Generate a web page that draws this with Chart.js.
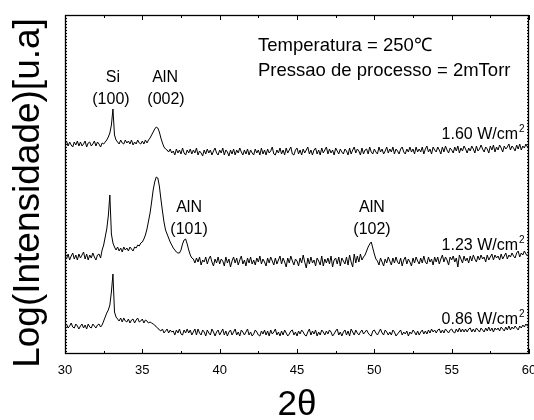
<!DOCTYPE html>
<html>
<head>
<meta charset="utf-8">
<script src="https://cdn.jsdelivr.net/npm/chart.js@4.4.1/dist/chart.umd.min.js"></script>
<style>
  html, body { margin: 0; padding: 0; background: #fff; }
</style>
</head>
<body>
<canvas id="xrd" width="534" height="420"></canvas>
<script>
/* 2theta grid, 30 -> 60 deg, 0.1 deg step */
const twoTheta = [];
for (let i = 300; i <= 600; i++) twoTheta.push(i / 10);

const xTicks = [30, 35, 40, 45, 50, 55, 60];

/* log intensity (arbitrary units, curves offset) */
const v160 = [
  210, 213, 208, 212, 209, 207, 212, 209, 213, 208,
  212, 208, 210, 213, 207, 211, 212, 208, 210, 213,
  208, 212, 210, 207, 211, 210, 212, 214, 217, 221,
  229, 245, 219, 214, 212, 210, 214, 211, 210, 214,
  211, 213, 210, 214, 209, 212, 210, 214, 211, 210,
  213, 210, 214, 211, 214, 216, 219, 222, 225, 227,
  226, 222, 216, 211, 207, 205, 204, 202, 205, 201,
  203, 199, 205, 201, 204, 200, 206, 201, 199, 204,
  201, 205, 200, 204, 201, 206, 199, 203, 201, 198,
  204, 200, 205, 201, 204, 199, 203, 206, 201, 199,
  204, 201, 206, 199, 204, 202, 198, 204, 200, 205,
  199, 204, 201, 206, 202, 199, 204, 200, 205, 199,
  204, 201, 199, 205, 201, 204, 199, 206, 200, 204,
  199, 205, 201, 203, 207, 200, 199, 204, 201, 206,
  200, 204, 199, 206, 201, 204, 207, 200, 199, 204,
  206, 200, 204, 199, 205, 201, 204, 207, 200, 204,
  199, 204, 206, 200, 204, 199, 206, 201, 204, 207,
  200, 205, 201, 204, 199, 206, 203, 200, 205, 202,
  200, 205, 203, 199, 206, 200, 204, 207, 201, 205,
  203, 199, 206, 200, 204, 205, 200, 207, 202, 200,
  205, 202, 200, 207, 202, 205, 200, 203, 207, 201,
  205, 202, 207, 200, 205, 203, 200, 205, 207, 202,
  200, 205, 202, 207, 202, 205, 200, 207, 202, 205,
  202, 207, 200, 205, 208, 202, 205, 200, 207, 204,
  202, 207, 204, 200, 207, 202, 208, 204, 201, 206,
  204, 201, 207, 203, 208, 201, 206, 203, 208, 205,
  201, 206, 203, 208, 205, 201, 208, 203, 205, 209,
  205, 202, 207, 205, 201, 208, 204, 209, 202, 207,
  204, 209, 206, 202, 208, 205, 207, 210, 204, 208,
  206, 203, 209, 205, 210, 204, 208, 206, 210, 207,
  208,
];

const v123 = [
  98, 95, 100, 94, 98, 101, 95, 99, 94, 100,
  96, 99, 102, 95, 100, 94, 99, 96, 101, 97,
  94, 99, 100, 96, 104, 109, 117, 125, 138, 159,
  120, 111, 107, 104, 107, 103, 106, 102, 107, 104,
  106, 103, 107, 105, 103, 107, 106, 109, 108, 111,
  112, 115, 119, 125, 133, 141, 152, 164, 172, 177,
  176, 168, 155, 143, 132, 124, 120, 116, 112, 109,
  106, 104, 102, 101, 101, 104, 110, 114, 115, 110,
  104, 99, 96, 95, 91, 96, 92, 97, 89, 94,
  92, 97, 90, 95, 98, 92, 88, 95, 91, 97,
  90, 95, 93, 88, 97, 91, 95, 87, 93, 97,
  91, 96, 89, 94, 98, 90, 94, 88, 96, 91,
  97, 90, 94, 89, 96, 92, 98, 90, 95, 92,
  88, 96, 91, 97, 93, 89, 96, 90, 94, 98,
  90, 96, 92, 87, 96, 91, 98, 93, 89, 95,
  93, 88, 96, 91, 99, 92, 86, 96, 90, 97,
  91, 94, 88, 96, 93, 89, 98, 88, 95, 91,
  96, 90, 98, 87, 94, 96, 90, 97, 88, 96,
  93, 90, 97, 89, 99, 92, 87, 100, 91, 98,
  92, 100, 94, 97, 99, 103, 107, 110, 112, 106,
  100, 95, 93, 89, 96, 92, 88, 95, 91, 97,
  93, 89, 96, 91, 97, 92, 90, 96, 88, 94,
  97, 90, 95, 92, 88, 96, 91, 97, 93, 90,
  96, 91, 98, 92, 90, 97, 92, 95, 89, 97,
  92, 97, 90, 95, 99, 92, 97, 94, 89, 97,
  94, 98, 92, 96, 87, 99, 95, 91, 98, 93,
  96, 91, 98, 93, 99, 95, 92, 98, 94, 99,
  95, 97, 92, 99, 94, 97, 100, 94, 99, 96,
  98, 94, 100, 95, 98, 101, 95, 99, 97, 101,
  98, 96, 101, 103, 97, 101, 99, 103, 100, 98,
  101,
];

const v086 = [
  28, 30, 26, 28, 31, 27, 26, 30, 28, 25,
  28, 30, 26, 29, 25, 30, 27, 26, 30, 28,
  26, 29, 30, 27, 29, 33, 37, 41, 44, 49,
  62, 80, 42, 37, 35, 33, 36, 32, 36, 33,
  32, 35, 31, 34, 35, 31, 34, 36, 32, 33,
  35, 31, 34, 33, 31, 32, 31, 30, 29, 27,
  26, 24, 23, 25, 21, 23, 25, 21, 24, 22,
  23, 19, 24, 21, 25, 20, 19, 24, 21, 25,
  21, 24, 19, 22, 25, 19, 25, 21, 19, 24,
  22, 18, 24, 21, 19, 25, 22, 18, 22, 24,
  19, 22, 25, 19, 23, 18, 22, 24, 19, 22,
  25, 19, 22, 18, 24, 22, 19, 22, 25, 19,
  22, 18, 20, 24, 22, 19, 18, 23, 20, 24,
  19, 23, 18, 24, 20, 22, 25, 19, 22, 18,
  23, 19, 24, 21, 18, 20, 23, 24, 19, 22,
  18, 23, 20, 24, 22, 19, 18, 22, 25, 19,
  23, 20, 24, 18, 22, 19, 24, 22, 19, 23,
  20, 24, 22, 18, 20, 23, 25, 19, 22, 18,
  22, 24, 19, 23, 18, 25, 22, 19, 24, 21,
  19, 22, 24, 20, 22, 24, 21, 19, 18, 23,
  24, 21, 19, 22, 25, 21, 19, 24, 22, 19,
  22, 19, 24, 22, 18, 20, 22, 24, 19, 22,
  20, 23, 18, 22, 20, 24, 22, 19, 23, 19,
  22, 24, 20, 23, 20, 24, 21, 25, 22, 24,
  21, 24, 25, 21, 24, 21, 25, 23, 21, 24,
  25, 22, 21, 25, 22, 26, 22, 25, 22, 25,
  22, 25, 26, 22, 25, 22, 26, 24, 22, 26,
  24, 22, 26, 23, 27, 23, 26, 22, 26, 24,
  26, 23, 27, 25, 23, 27, 24, 28, 24, 27,
  25, 28, 26, 24, 28, 26, 29, 27, 30, 28,
  29,
];

/* texts placed in data coordinates */
const peakLabels = [
  { text: "Si", x: 33.1, y: 276 },
  { text: "(100)", x: 32.97, y: 254 },
  { text: "AlN", x: 36.47, y: 276 },
  { text: "(002)", x: 36.53, y: 254 },
  { text: "AlN", x: 38.02, y: 146 },
  { text: "(101)", x: 38.02, y: 124 },
  { text: "AlN", x: 49.85, y: 146 },
  { text: "(102)", x: 49.85, y: 124 },
];
const conditions = ["Temperatura = 250℃", "Pressao de processo = 2mTorr"];
const powers = ["1.60", "1.23", "0.86"];
const powerLabelY = [219, 108, 34];

const FONT = "'Liberation Sans', Arial, sans-serif";

function series(vals) {
  return {
    data: twoTheta.map((x, i) => ({ x: x, y: vals[i] })),
    borderColor: "#000",
    borderWidth: 1,
    pointRadius: 0,
    tension: 0,
    fill: false,
  };
}

/* frame, inner ticks, annotations and axis titles */
const decor = {
  id: "decor",
  afterDraw(chart) {
    const { ctx, chartArea: a, scales } = chart;
    const x = scales.x;
    const y = scales.y;
    ctx.save();
    ctx.strokeStyle = "#000";
    ctx.lineWidth = 1;
    ctx.beginPath();
    for (let v = 30; v <= 60; v += 2.5) {
      const px = Math.round(x.getPixelForValue(v)) + 0.5;
      const len = v % 5 === 0 ? 5 : 3;
      ctx.moveTo(px, a.bottom);
      ctx.lineTo(px, a.bottom - len);
      ctx.moveTo(px, a.top);
      ctx.lineTo(px, a.top + len);
    }
    for (let v = 3; v < 339; v += 3) {
      const py = Math.round(y.getPixelForValue(v)) + 0.5;
      ctx.moveTo(a.left, py);
      ctx.lineTo(a.left + 2, py);
      ctx.moveTo(a.right, py);
      ctx.lineTo(a.right - 2, py);
    }
    ctx.stroke();
    ctx.lineWidth = 1.3;
    ctx.strokeRect(a.left + 0.5, a.top + 0.5, a.right - a.left - 1, a.bottom - a.top - 1);

    ctx.fillStyle = "#000";
    ctx.textBaseline = "middle";

    ctx.font = "16px " + FONT;
    ctx.textAlign = "center";
    peakLabels.forEach((l) => {
      ctx.fillText(l.text, x.getPixelForValue(l.x), y.getPixelForValue(l.y));
    });

    ctx.font = "18.5px " + FONT;
    ctx.textAlign = "left";
    ctx.fillText(conditions[0], x.getPixelForValue(42.48), y.getPixelForValue(308));
    ctx.fillText(conditions[1], x.getPixelForValue(42.48), y.getPixelForValue(283));

    const right = x.getPixelForValue(59.29);
    powers.forEach((p, i) => {
      const py = y.getPixelForValue(powerLabelY[i]);
      ctx.font = "16px " + FONT;
      ctx.textAlign = "right";
      ctx.fillText(p + " W/cm", right, py);
      ctx.font = "10px " + FONT;
      ctx.textAlign = "left";
      ctx.fillText("2", right + 1, py - 6);
    });

    ctx.font = "35px " + FONT;
    ctx.textAlign = "center";
    ctx.fillText("2θ", (a.left + a.right) / 2, 405);

    ctx.translate(29, 193);
    ctx.rotate(-Math.PI / 2);
    ctx.font = "37px " + FONT;
    ctx.fillText("Log(Intensidade)[u.a]", 0, 0);
    ctx.restore();
  },
};

new Chart(document.getElementById("xrd"), {
  type: "line",
  data: { datasets: [series(v160), series(v123), series(v086)] },
  options: {
    responsive: false,
    animation: false,
    layout: { padding: { top: 15, right: 5, left: 0, bottom: 0 } },
    plugins: { legend: { display: false }, tooltip: { enabled: false } },
    scales: {
      x: {
        type: "linear",
        min: 30,
        max: 60,
        afterBuildTicks: (s) => {
          s.ticks = xTicks.map((v) => ({ value: v }));
        },
        grid: { display: false, drawTicks: false },
        border: { display: false },
        ticks: {
          color: "#000",
          padding: 9,
          maxRotation: 0,
          autoSkip: false,
          font: { family: FONT, size: 13 },
        },
        afterFit: (s) => {
          s.height = 66;
          s.paddingLeft = 0;
          s.paddingRight = 0;
        },
      },
      y: {
        type: "linear",
        min: 0,
        max: 339,
        grid: { display: false, drawTicks: false },
        border: { display: false },
        ticks: { display: false },
        afterFit: (s) => {
          s.width = 65;
        },
      },
    },
  },
  plugins: [decor],
});
</script>
</body>
</html>
